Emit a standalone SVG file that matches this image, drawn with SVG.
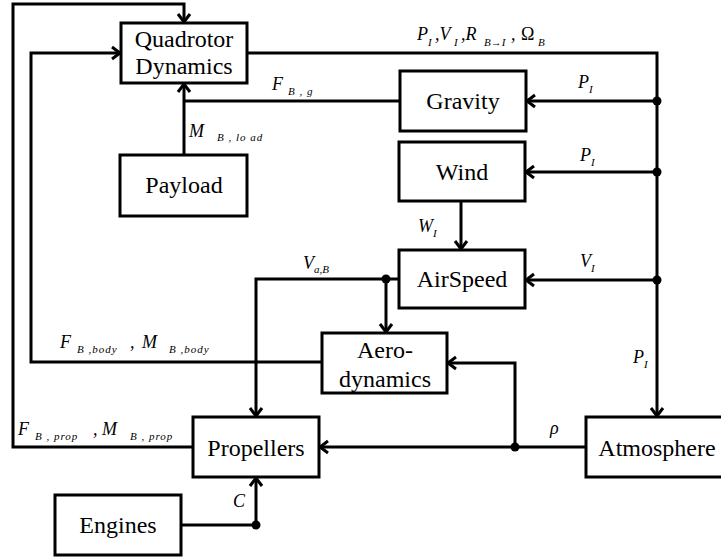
<svg xmlns="http://www.w3.org/2000/svg" width="721" height="559" viewBox="0 0 721 559" font-family="Liberation Serif, DejaVu Serif, Times New Roman, serif">
<style>
.box{fill:#fff;stroke:#000;stroke-width:3}
.lbl{font-size:24px;fill:#000;text-anchor:middle}
.c{fill:none;stroke:#000;stroke-width:3}
.m{font-style:italic;font-size:18px;fill:#000}
.s{font-style:italic;font-size:11px;fill:#000}
.ss{font-style:italic;font-size:11px;fill:#000;letter-spacing:1px}
.up{font-style:normal}
</style>
<defs>
<marker id="a" markerUnits="userSpaceOnUse" viewBox="-12 -9 14 18" markerWidth="14" markerHeight="18" refX="0" refY="0" orient="auto">
<path d="M-9,-6 L-1,0 L-9,6" fill="none" stroke="#000" stroke-width="3"/>
</marker>
</defs>
<rect width="721" height="559" fill="#fff"/>
<g id="connectors">
<path class="c" d="M193,447 H13 V4 H184 V23" marker-end="url(#a)"/>
<path class="c" d="M322,362 H31 V53 H121" marker-end="url(#a)"/>
<path class="c" d="M247,53 H657 V417" marker-end="url(#a)"/>
<path class="c" d="M657,101 H526" marker-end="url(#a)"/>
<path class="c" d="M657,172 H525" marker-end="url(#a)"/>
<path class="c" d="M657,280 H525" marker-end="url(#a)"/>
<path class="c" d="M400,101 H184"/>
<path class="c" d="M184,155 V83" marker-end="url(#a)"/>
<path class="c" d="M461,201 V250" marker-end="url(#a)"/>
<path class="c" d="M399,279 H256 V417" marker-end="url(#a)"/>
<path class="c" d="M386,279 V333" marker-end="url(#a)"/>
<path class="c" d="M586,447 H319" marker-end="url(#a)"/>
<path class="c" d="M515,447 V363 H447" marker-end="url(#a)"/>
<path class="c" d="M181,525 H256 V477" marker-end="url(#a)"/>
<circle cx="657" cy="101" r="4.5"/>
<circle cx="657" cy="172" r="4.5"/>
<circle cx="657" cy="280" r="4.5"/>
<circle cx="386" cy="279" r="4.5"/>
<circle cx="515" cy="447" r="4.5"/>
<circle cx="256" cy="525" r="4.5"/>
</g>
<g id="quadrotor">
<rect class="box" x="121" y="23" width="126" height="60"/>
<text class="lbl" x="184" y="47">Quadrotor</text>
<text class="lbl" x="184" y="74">Dynamics</text>
</g>
<g id="gravity">
<rect class="box" x="400" y="71" width="126" height="60"/>
<text class="lbl" x="463" y="109">Gravity</text>
</g>
<g id="wind">
<rect class="box" x="399" y="142" width="126" height="59"/>
<text class="lbl" x="462" y="180">Wind</text>
</g>
<g id="payload">
<rect class="box" x="120" y="155" width="127" height="61"/>
<text class="lbl" x="184" y="193">Payload</text>
</g>
<g id="airspeed">
<rect class="box" x="399" y="250" width="126" height="58"/>
<text class="lbl" x="462" y="287">AirSpeed</text>
</g>
<g id="aerodynamics">
<rect class="box" x="322" y="333" width="125" height="60"/>
<text class="lbl" x="385" y="358">Aero-</text>
<text class="lbl" x="385" y="387">dynamics</text>
</g>
<g id="propellers">
<rect class="box" x="193" y="417" width="126" height="60"/>
<text class="lbl" x="256" y="456">Propellers</text>
</g>
<g id="atmosphere">
<rect class="box" x="586" y="417" width="142" height="60"/>
<text class="lbl" x="657" y="456">Atmosphere</text>
</g>
<g id="engines">
<rect class="box" x="55" y="495" width="126" height="60"/>
<text class="lbl" x="118" y="533">Engines</text>
</g>
<g id="labels">
<text class="m" x="417" y="40">P</text><text class="s" x="428" y="46">I</text><text class="m" x="435" y="40">,V</text><text class="s" x="454" y="46">I</text><text class="m" x="461" y="40">,R</text><text class="s" x="484" y="46">B→I</text><text class="m" x="511" y="40">,</text><text class="m up" x="521" y="40">Ω</text><text class="s" x="538" y="46">B</text>
<text class="m" x="272" y="90">F</text><text class="ss" x="288" y="95">B , g</text>
<text class="m" x="578" y="88">P</text><text class="s" x="589" y="93">I</text>
<text class="m" x="189" y="137">M</text><text class="ss" x="217" y="141">B , lo ad</text>
<text class="m" x="580" y="161">P</text><text class="s" x="591" y="166">I</text>
<text class="m" x="418" y="232">W</text><text class="s" x="433" y="237">I</text>
<text class="m" x="580" y="267">V</text><text class="s" x="591" y="272">I</text>
<text class="m" x="303" y="269">V</text><text class="s" x="314" y="273">a,B</text>
<text class="m" x="60" y="348">F</text><text class="ss" x="77" y="353">B ,body</text><text class="m" x="130" y="348">,</text><text class="m" x="142" y="348">M</text><text class="ss" x="169" y="353">B ,body</text>
<text class="m" x="633" y="363">P</text><text class="s" x="644" y="368">I</text>
<text class="m" x="550" y="434">ρ</text>
<text class="m" x="18" y="435">F</text><text class="ss" x="35" y="440">B , prop</text><text class="m" x="93" y="435">,</text><text class="m" x="102" y="435">M</text><text class="ss" x="130" y="440">B , prop</text>
<text class="m" x="233" y="507">C</text>
</g>
</svg>
